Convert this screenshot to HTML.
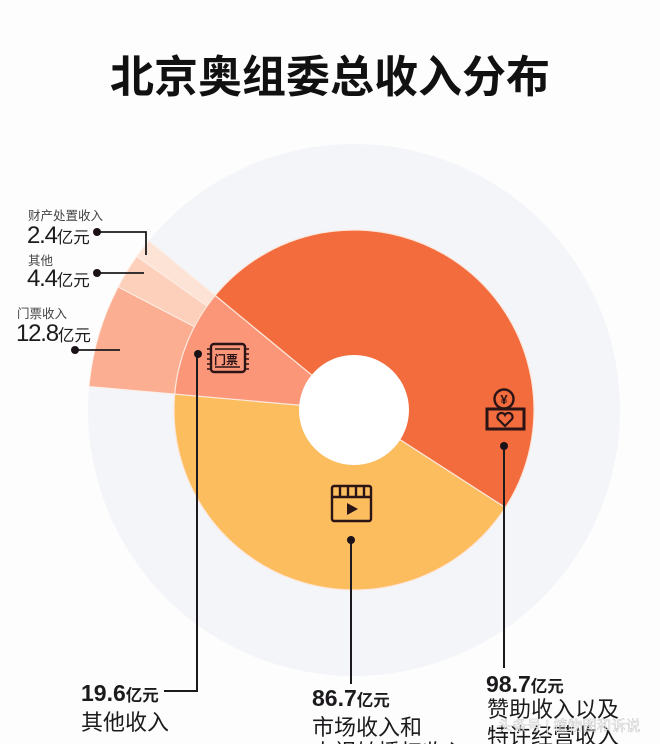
<!DOCTYPE html>
<html lang="zh">
<head>
<meta charset="utf-8">
<title>北京奥组委总收入分布</title>
<style>
html,body{margin:0;padding:0;background:#fdfdfd;}
body{width:660px;height:744px;overflow:hidden;}
svg{display:block;}
text{font-family:"Liberation Sans","Noto Sans CJK SC",sans-serif;fill:#1c1a1c;}
.cjk{font-family:"Noto Sans CJK SC","Liberation Sans",sans-serif;}
.lead{stroke:#1c1a1c;stroke-width:1.8;fill:none;}
.dot{fill:#1a1216;}
.icon{stroke:#2a1416;stroke-width:2.4;fill:none;}
.num{letter-spacing:-1.2px;}
</style>
</head>
<body>
<svg id="chart" xmlns="http://www.w3.org/2000/svg" width="660" height="744" viewBox="0 0 660 744">
  <rect width="660" height="744" fill="#fdfdfd"/>
  <circle cx="354" cy="410" r="266" fill="#f3f5f9"/>
  <text class="cjk" x="330" y="92" text-anchor="middle" font-size="44" font-weight="700" style="fill:#111">北京奥组委总收入分布</text>
  <g id="fan"></g>
  <g id="slices"></g>
  <circle cx="354" cy="410" r="55" fill="#fff"/>

  <g>
    <rect class="icon" x="211" y="344" width="34" height="28" rx="3"/>
    <path class="icon" style="stroke-width:1.6" d="M207 349H211M207 354H211M207 359H211M207 364H211M207 369H211M245 349H249M245 354H249M245 359H249M245 364H249M245 369H249M215 349H240M215 367H240"/>
    <text class="cjk" x="214" y="364" font-size="12" font-weight="700" style="fill:#2a1416">门票</text>
  </g>
  <g>
    <rect class="icon" x="332" y="486" width="39" height="35" rx="2"/>
    <path class="icon" d="M332 497H371M340 486V497M348 486V497M356 486V497M364 486V497"/>
    <path d="M347 503L358 509L347 515Z" fill="#2a1416"/>
  </g>
  <g>
    <circle class="icon" cx="504" cy="399" r="9.500"/>
    <text x="504" y="404" text-anchor="middle" font-size="13" font-weight="700" style="fill:#2a1416">¥</text>
    <rect class="icon" x="487" y="409" width="37" height="20" style="fill:#f26c3d;stroke-width:3"/>
    <path d="M505 426L498 419A3.800 3.800 0 0 1 505 415A3.800 3.800 0 0 1 512 419Z" fill="none" stroke="#2a1416" stroke-width="2.200"/>
  </g>

  <g>
    <path class="lead" d="M97 232H146V255"/>
    <path class="lead" d="M97 273H144"/>
    <path class="lead" d="M75 350H120"/>
    <path class="lead" style="stroke-width:2" d="M197 354V691H164"/>
    <path class="lead" style="stroke-width:2" d="M351 540V684"/>
    <path class="lead" style="stroke-width:2" d="M504 446V668"/>
    <circle class="dot" cx="97" cy="232" r="4"/>
    <circle class="dot" cx="97" cy="273" r="4"/>
    <circle class="dot" cx="75" cy="350" r="4"/>
    <circle class="dot" cx="198" cy="354" r="4"/>
    <circle class="dot" cx="351" cy="540" r="4"/>
    <circle class="dot" cx="504" cy="446" r="4"/>
  </g>

  <g>
    <text x="28" y="220" font-size="12.500" style="fill:#444">财产处置收入</text>
    <text x="27" y="243" font-size="24"><tspan class="num">2.4</tspan><tspan font-size="16.500">亿元</tspan></text>
    <text x="28" y="265" font-size="12.500" style="fill:#444">其他</text>
    <text x="27" y="286" font-size="24"><tspan class="num">4.4</tspan><tspan font-size="16.500">亿元</tspan></text>
    <text x="17" y="318" font-size="12.500" style="fill:#444">门票收入</text>
    <text x="16" y="341" font-size="24"><tspan class="num">12.8</tspan><tspan font-size="16.500">亿元</tspan></text>
  </g>

  <g>
    <text x="81" y="701" font-size="23" font-weight="700">19.6<tspan font-size="16.500">亿元</tspan></text>
    <text x="81" y="730" font-size="22">其他收入</text>
    <text x="312" y="706" font-size="23" font-weight="700">86.7<tspan font-size="16.500">亿元</tspan></text>
    <text x="312" y="735" font-size="22">市场收入和</text>
    <text x="312" y="760" font-size="22">电视转播权收入</text>
    <text x="486" y="692" font-size="23" font-weight="700">98.7<tspan font-size="16.500">亿元</tspan></text>
    <text x="487" y="717" font-size="22">赞助收入以及</text>
    <text x="487" y="744" font-size="22">特许经营收入</text>
  </g>
  <text x="498" y="731" font-size="14.500" style="fill:#fff;stroke:#999;stroke-width:.3;opacity:.9">头条号 | 植物图和诉说</text>
</svg>
<script>
// Chart data (亿元)
const sliceNames = ['sponsor', 'market', 'other-income'];
const sliceValues = [98.7, 86.7, 19.6];
const fanNames = ['ticket', 'other', 'property'];
const fanValues = [12.8, 4.4, 2.4];

const SVGNS = 'http://www.w3.org/2000/svg';
const cx = 354, cy = 410, innerR = 50, outerR = 180, fanR = 266;
const startDeg = 309.5;
const sliceColors = ['#f26c3d', '#fcbd5e', '#fb9679'];
const fanColors = ['#fcae92', '#fcd0bb', '#fde3d6'];
const sliceTotal = sliceValues.reduce((a, b) => a + b, 0);

function angleScale(v) { return v / sliceTotal * 360; }
function polar(r, deg) {
  const a = (deg - 90) * Math.PI / 180;
  return [cx + r * Math.cos(a), cy + r * Math.sin(a)];
}
function wedge(r0, r1, a0, a1) {
  const large = a1 - a0 > 180 ? 1 : 0;
  const p0 = polar(r1, a0), p1 = polar(r1, a1), p2 = polar(r0, a1), p3 = polar(r0, a0);
  return 'M' + p0[0] + ' ' + p0[1] + 'A' + r1 + ' ' + r1 + ' 0 ' + large + ' 1 ' + p1[0] + ' ' + p1[1] +
    'L' + p2[0] + ' ' + p2[1] + 'A' + r0 + ' ' + r0 + ' 0 ' + large + ' 0 ' + p3[0] + ' ' + p3[1] + 'Z';
}

const slicesGroup = document.getElementById('slices');
const fanGroup = document.getElementById('fan');
let angle = startDeg;
let otherStart = startDeg;
sliceValues.forEach(function (v, i) {
  const next = angle + angleScale(v);
  const el = document.createElementNS(SVGNS, 'path');
  
  
  el.setAttribute('d', wedge(innerR, outerR, angle, next));
  el.setAttribute('fill', sliceColors[i]);
  el.setAttribute('stroke', '#fde6da');
  el.setAttribute('stroke-width', '1.2');
  slicesGroup.appendChild(el);
  if (i === sliceValues.length - 1) otherStart = angle;
  angle = next;
});
let fanAngle = otherStart;
fanValues.forEach(function (v, i) {
  const next = fanAngle + angleScale(v);
  const el = document.createElementNS(SVGNS, 'path');
  
  
  el.setAttribute('d', wedge(outerR, fanR, fanAngle, next));
  el.setAttribute('fill', fanColors[i]);
  el.setAttribute('stroke', '#fdeee6');
  el.setAttribute('stroke-width', '1');
  fanGroup.appendChild(el);
  fanAngle = next;
});
</script>
</body>
</html>
